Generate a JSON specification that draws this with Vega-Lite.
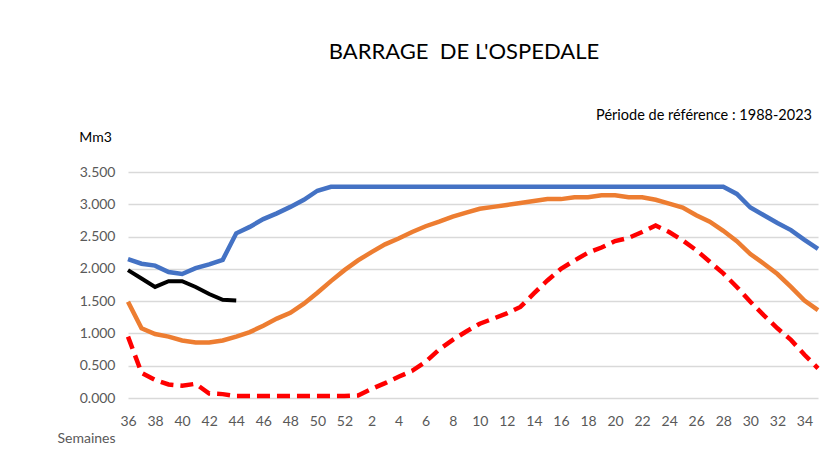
{
  "$schema": "https://vega.github.io/schema/vega-lite/v6.json",
  "width": 690,
  "height": 226,
  "autosize": {"type": "none"},
  "padding": {"left": 128, "top": 172, "right": 5, "bottom": 55},
  "background": "white",
  "config": {
    "view": {"stroke": null},
    "font": "Lato",
    "axisY": {
      "title": "Mm3",
      "titleFont": "Lato",
      "titleFontSize": 14,
      "titleFontWeight": "normal",
      "titleColor": "#000000",
      "titleAngle": 0,
      "titleAlign": "center",
      "titleBaseline": "alphabetic",
      "titleX": -33,
      "titleY": -31,
      "tickCount": 7,
      "labelOverlap": false,
      "labelFont": "Lato",
      "labelFontSize": 14,
      "labelColor": "#595959",
      "labelPadding": 13,
      "ticks": false,
      "domain": false,
      "grid": true,
      "gridColor": "#d9d9d9",
      "gridWidth": 1.5
    }
  },
  "title": {
    "text": "BARRAGE\u00a0 DE L'OSPEDALE",
    "font": "Lato",
    "fontSize": 22,
    "fontWeight": "normal",
    "color": "#000000",
    "anchor": "middle",
    "offset": 20,
    "dy": -24,
    "dx": -9
  },
  "data": {
    "values": [
      {"sem": 36, "max": 2.15, "moy": 1.49, "min": 0.95, "cur": 1.98},
      {"sem": 37, "max": 2.08, "moy": 1.08, "min": 0.39, "cur": 1.85},
      {"sem": 38, "max": 2.05, "moy": 0.99, "min": 0.28, "cur": 1.72},
      {"sem": 39, "max": 1.95, "moy": 0.95, "min": 0.21, "cur": 1.81},
      {"sem": 40, "max": 1.92, "moy": 0.89, "min": 0.19, "cur": 1.81},
      {"sem": 41, "max": 2.01, "moy": 0.86, "min": 0.22, "cur": 1.72},
      {"sem": 42, "max": 2.07, "moy": 0.86, "min": 0.07, "cur": 1.61},
      {"sem": 43, "max": 2.14, "moy": 0.89, "min": 0.06, "cur": 1.52},
      {"sem": 44, "max": 2.55, "moy": 0.95, "min": 0.03, "cur": 1.51},
      {"sem": 45, "max": 2.65, "moy": 1.02, "min": 0.03},
      {"sem": 46, "max": 2.77, "moy": 1.12, "min": 0.03},
      {"sem": 47, "max": 2.86, "moy": 1.23, "min": 0.03},
      {"sem": 48, "max": 2.96, "moy": 1.32, "min": 0.03},
      {"sem": 49, "max": 3.07, "moy": 1.46, "min": 0.03},
      {"sem": 50, "max": 3.21, "moy": 1.63, "min": 0.03},
      {"sem": 51, "max": 3.27, "moy": 1.81, "min": 0.03},
      {"sem": 52, "max": 3.27, "moy": 1.98, "min": 0.03},
      {"sem": 1, "max": 3.27, "moy": 2.13, "min": 0.04},
      {"sem": 2, "max": 3.27, "moy": 2.26, "min": 0.14},
      {"sem": 3, "max": 3.27, "moy": 2.38, "min": 0.23},
      {"sem": 4, "max": 3.27, "moy": 2.47, "min": 0.33},
      {"sem": 5, "max": 3.27, "moy": 2.57, "min": 0.42},
      {"sem": 6, "max": 3.27, "moy": 2.66, "min": 0.56},
      {"sem": 7, "max": 3.27, "moy": 2.73, "min": 0.75},
      {"sem": 8, "max": 3.27, "moy": 2.81, "min": 0.90},
      {"sem": 9, "max": 3.27, "moy": 2.87, "min": 1.03},
      {"sem": 10, "max": 3.27, "moy": 2.93, "min": 1.15},
      {"sem": 11, "max": 3.27, "moy": 2.96, "min": 1.23},
      {"sem": 12, "max": 3.27, "moy": 2.99, "min": 1.31},
      {"sem": 13, "max": 3.27, "moy": 3.02, "min": 1.41},
      {"sem": 14, "max": 3.27, "moy": 3.05, "min": 1.62},
      {"sem": 15, "max": 3.27, "moy": 3.08, "min": 1.82},
      {"sem": 16, "max": 3.27, "moy": 3.08, "min": 2.00},
      {"sem": 17, "max": 3.27, "moy": 3.11, "min": 2.13},
      {"sem": 18, "max": 3.27, "moy": 3.11, "min": 2.25},
      {"sem": 19, "max": 3.27, "moy": 3.14, "min": 2.33},
      {"sem": 20, "max": 3.27, "moy": 3.14, "min": 2.43},
      {"sem": 21, "max": 3.27, "moy": 3.11, "min": 2.48},
      {"sem": 22, "max": 3.27, "moy": 3.11, "min": 2.57},
      {"sem": 23, "max": 3.27, "moy": 3.07, "min": 2.67},
      {"sem": 24, "max": 3.27, "moy": 3.01, "min": 2.57},
      {"sem": 25, "max": 3.27, "moy": 2.95, "min": 2.44},
      {"sem": 26, "max": 3.27, "moy": 2.83, "min": 2.29},
      {"sem": 27, "max": 3.27, "moy": 2.73, "min": 2.11},
      {"sem": 28, "max": 3.27, "moy": 2.59, "min": 1.93},
      {"sem": 29, "max": 3.16, "moy": 2.43, "min": 1.72},
      {"sem": 30, "max": 2.95, "moy": 2.23, "min": 1.49},
      {"sem": 31, "max": 2.83, "moy": 2.08, "min": 1.28},
      {"sem": 32, "max": 2.71, "moy": 1.92, "min": 1.08},
      {"sem": 33, "max": 2.60, "moy": 1.72, "min": 0.90},
      {"sem": 34, "max": 2.45, "moy": 1.51, "min": 0.67},
      {"sem": 35, "max": 2.31, "moy": 1.36, "min": 0.46}
    ]
  },
  "encoding": {
    "x": {
      "field": "sem",
      "type": "ordinal",
      "scale": {
        "type": "point",
        "padding": 0,
        "domain": [36,37,38,39,40,41,42,43,44,45,46,47,48,49,50,51,52,1,2,3,4,5,6,7,8,9,10,11,12,13,14,15,16,17,18,19,20,21,22,23,24,25,26,27,28,29,30,31,32,33,34,35]
      },
      "axis": {
        "title": "Semaines",
        "titleFont": "Lato",
        "titleFontSize": 14,
        "titleFontWeight": "normal",
        "titleColor": "#595959",
        "titleAnchor": "start",
        "titleAlign": "center",
        "titleBaseline": "alphabetic",
        "titleX": -42,
        "titleY": 44,
        "labelAngle": 0,
        "labelFont": "Lato",
        "labelFontSize": 14,
        "labelColor": "#595959",
        "labelPadding": 16,
        "labelExpr": "datum.value % 2 == 0 ? datum.label : ''",
        "ticks": false,
        "domain": false,
        "grid": false
      }
    }
  },
  "layer": [
    {
      "mark": {"type": "line", "color": "#4472C4", "strokeWidth": 4.5},
      "encoding": {
        "y": {
          "field": "max",
          "type": "quantitative",
          "scale": {"domain": [0, 3.5], "nice": false},
          "axis": {"format": ".3f", "title": "Mm3"}
        }
      }
    },
    {
      "mark": {"type": "line", "color": "#ED7D31", "strokeWidth": 4.5},
      "encoding": {"y": {"field": "moy", "type": "quantitative", "axis": {"format": ".3f", "title": "Mm3"}}}
    },
    {
      "mark": {"type": "line", "color": "#FF0000", "strokeWidth": 4.5, "strokeDash": [13, 7]},
      "encoding": {"y": {"field": "min", "type": "quantitative", "axis": {"format": ".3f", "title": "Mm3"}}}
    },
    {
      "mark": {"type": "line", "color": "#000000", "strokeWidth": 4},
      "encoding": {"y": {"field": "cur", "type": "quantitative", "axis": {"format": ".3f", "title": "Mm3"}}}
    },
    {
      "data": {"values": [{"t": "Période de référence : 1988-2023", "sem": 35, "v": 4.3}]},
      "mark": {"type": "text", "align": "right", "baseline": "alphabetic", "dx": -6, "font": "Lato", "fontSize": 14.5, "color": "#000000"},
      "encoding": {
        "y": {"field": "v", "type": "quantitative", "axis": {"format": ".3f", "title": "Mm3"}},
        "text": {"field": "t"}
      }
    }
  ]
}
